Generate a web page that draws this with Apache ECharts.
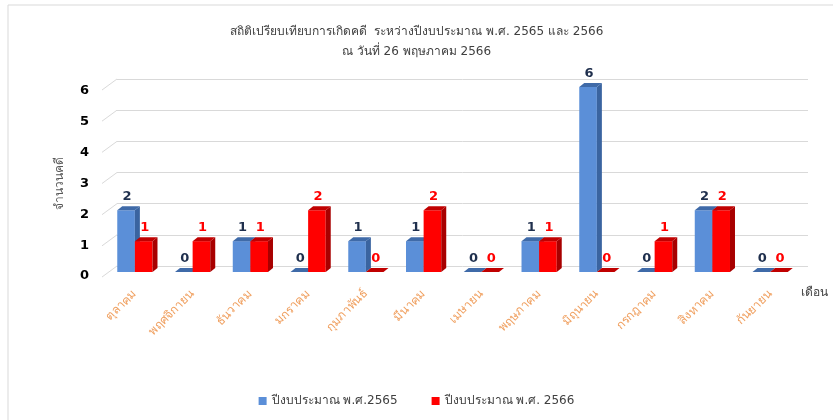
<!DOCTYPE html>
<html>
<head>
<meta charset="utf-8">
<script src="https://cdn.jsdelivr.net/npm/echarts@6/dist/echarts.min.js"></script>
<style>
html,body{margin:0;padding:0;background:#fff;}
#chart{width:833px;height:420px;}
</style>
</head>
<body>
<div id="chart"></div>
<script>
const months = ['ตุลาคม','พฤศจิกายน','ธันวาคม','มกราคม','กุมภาพันธ์','มีนาคม','เมษายน','พฤษภาคม','มิถุนายน','กรกฎาคม','สิงหาคม','กันยายน'];
const fy2565 = [2,0,1,0,1,1,0,1,6,0,2,0];
const fy2566 = [1,1,1,2,0,2,0,1,0,1,2,0];
const yTicks = [0,1,2,3,4,5,6];
const seriesNames = ['ปีงบประมาณ พ.ศ.2565', 'ปีงบประมาณ พ.ศ. 2566'];
const titleText = 'สถิติเปรียบเทียบการเกิดคดี  ระหว่างปีงบประมาณ พ.ศ. 2565 และ 2566\nณ วันที่ 26 พฤษภาคม 2566';

const FONT = 'Tahoma, "DejaVu Sans", "Noto Sans", sans-serif';

function makeRender(side, front, sideC, topC, labelC) {
  return function (params, api) {
    const i = api.value(0), v = api.value(1);
    const top = api.coord([i, v]);
    const base = api.coord([i, 0]);
    const band = api.size([1, 0])[0];
    const w = band * 0.305;
    const x0 = side < 0 ? top[0] - w : top[0];
    const x1 = x0 + w;
    const yT = top[1], yB = base[1];
    const dx = 5, dy = 4;
    const children = [];
    if (yB - yT > 0.5) {
      children.push({type: 'rect', shape: {x: x0, y: yT, width: w, height: yB - yT}, style: {fill: front}});
      children.push({type: 'polygon', shape: {points: [[x1, yB], [x1, yT], [x1 + dx, yT - dy], [x1 + dx, yB - dy]]}, style: {fill: sideC}});
    }
    children.push({type: 'polygon', shape: {points: [[x0, yT], [x1, yT], [x1 + dx, yT - dy], [x0 + dx, yT - dy]]}, style: {fill: topC}});
    children.push({type: 'text', style: {text: String(v), x: x0 + w / 2 + 1, y: yT - dy - 3, fill: labelC, fontSize: 13, fontWeight: 'bold', fontFamily: FONT, align: 'center', verticalAlign: 'bottom'}});
    return {type: 'group', children: children};
  };
}

const chart = echarts.init(document.getElementById('chart'), null, {renderer: 'canvas'});
chart.setOption({
  backgroundColor: '#fff',
  animation: false,
  textStyle: {fontFamily: FONT},
  title: {
    text: titleText,
    left: 'center',
    top: 17,
    textStyle: {fontSize: 12, fontWeight: 'normal', color: '#404040', lineHeight: 20, fontFamily: FONT}
  },
  legend: {
    data: seriesNames,
    bottom: 8,
    left: 'center',
    icon: 'rect',
    itemWidth: 8,
    itemHeight: 8,
    itemGap: 34,
    textStyle: {fontSize: 12, color: '#404040', fontFamily: FONT}
  },
  graphic: [{
    type: 'rect', silent: true,
    shape: {x: 8, y: 5, width: 1000, height: 1000},
    style: {fill: 'none', stroke: '#d9d9d9', lineWidth: 1}
  }],
  grid: [
    {left: 106, right: 34, top: 87, height: 185},   // bars (front)
    {left: 117, right: 25, top: 79, height: 187},   // back wall gridlines
    {left: 98, right: 34, top: 91, height: 185}     // y labels
  ],
  xAxis: [
    {type: 'category', gridIndex: 0, data: months, boundaryGap: true,
      axisLine: {show: false}, axisTick: {show: false},
      axisLabel: {rotate: 45, interval: 0, margin: 20, color: '#f0a060', fontSize: 12, fontFamily: FONT},
      name: 'เดือน', nameLocation: 'end', nameGap: 2,
      nameTextStyle: {color: '#404040', fontSize: 12, align: 'left', verticalAlign: 'top', padding: [15, 0, 0, 0], fontFamily: FONT}},
    {type: 'value', gridIndex: 1, min: 0, max: 1, show: false},
    {type: 'value', gridIndex: 2, min: 0, max: 1, show: false}
  ],
  yAxis: [
    {type: 'value', gridIndex: 0, min: 0, max: 6, interval: 1, show: false},
    {type: 'value', gridIndex: 1, min: 0, max: 6, interval: 1,
      axisLine: {show: false}, axisTick: {show: false}, axisLabel: {show: false},
      splitLine: {show: true, lineStyle: {color: '#d9d9d9', width: 1}}},
    {type: 'value', gridIndex: 2, min: 0, max: 6, interval: 1,
      axisLine: {show: false}, axisTick: {show: false}, splitLine: {show: false},
      axisLabel: {margin: 9, color: '#000', fontSize: 13, fontWeight: 'bold', fontFamily: FONT},
      name: 'จำนวนคดี', nameLocation: 'middle', nameRotate: 90, nameGap: 32,
      nameTextStyle: {color: '#595959', fontSize: 12, fontFamily: FONT}}
  ],
  series: [
    {
      type: 'custom', name: 'grid-slant', xAxisIndex: 1, yAxisIndex: 1, silent: true, clip: false,
      data: yTicks.map(t => [0, t]),
      renderItem: function (params, api) {
        const p = api.coord([0, api.value(1)]);
        return {type: 'line', shape: {x1: p[0] - 15, y1: p[1] + 11, x2: p[0], y2: p[1]}, style: {stroke: '#d9d9d9', lineWidth: 1}};
      }
    },
    {
      type: 'custom', name: seriesNames[0], xAxisIndex: 0, yAxisIndex: 0, clip: false,
      itemStyle: {color: '#5b8fd8'},
      encode: {x: 0, y: 1},
      data: fy2565.map((v, i) => [i, v]),
      renderItem: makeRender(-1, '#5b8fd8', '#3a64a0', '#3f6aa8', '#1f2f4d')
    },
    {
      type: 'custom', name: seriesNames[1], xAxisIndex: 0, yAxisIndex: 0, clip: false,
      itemStyle: {color: '#ff0000'},
      encode: {x: 0, y: 1},
      data: fy2566.map((v, i) => [i, v]),
      renderItem: makeRender(1, '#ff0000', '#a80000', '#c00000', '#ff0000')
    }
  ]
});
</script>
</body>
</html>
